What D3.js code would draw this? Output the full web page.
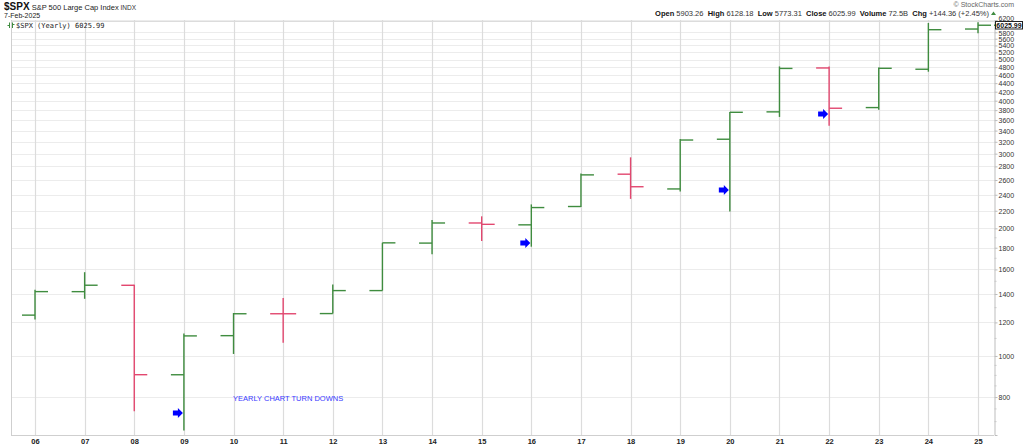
<!DOCTYPE html>
<html><head><meta charset="utf-8">
<script src="https://cdn.jsdelivr.net/npm/d3@7"></script>
<style>html,body{margin:0;padding:0;background:#fff;}svg{display:block;}</style>
</head><body>
<svg id="c" width="1024" height="446"></svg>
<script>
const years = [2006,2007,2008,2009,2010,2011,2012,2013,2014,2015,2016,2017,2018,2019,2020,2021,2022,2023,2024,2025];
const opens = [1248.29,1418.03,1467.97,902.99,1116.56,1257.62,1258.86,1426.19,1845.86,2058.90,2038.20,2251.57,2683.73,2476.96,3244.67,3764.61,4778.14,3853.29,4745.20,5903.26];
const highs = [1431.81,1576.09,1471.77,1130.38,1262.60,1370.58,1474.51,1849.44,2093.55,2134.72,2277.53,2694.97,2940.91,3247.93,3760.20,4818.62,4818.62,4793.30,6099.97,6128.18];
const lows  = [1219.29,1363.98,741.02,666.79,1010.91,1074.77,1258.86,1426.19,1737.92,1867.01,1810.10,2245.13,2346.58,2443.96,2191.86,3662.71,3491.58,3808.10,4682.11,5773.31];
const closes= [1418.30,1468.36,903.25,1115.10,1257.64,1257.60,1426.19,1848.36,2058.90,2043.94,2238.83,2673.61,2506.85,3230.78,3756.07,4766.18,3839.50,4769.83,5881.63,6025.99];
const yTicks = [800,1000,1200,1400,1600,1800,2000,2200,2400,2600,2800,3000,3200,3400,3600,3800,4000,4200,4400,4600,4800,5000,5200,5400,5600,5800,6200];
const minorTicks = [700,750,850,900,950,1100,1300,1500,1700,1900];
const arrowYears = [2009,2016,2020,2022];
const arrowValues = [734,1847,2463,3722];

const svg = d3.select('#c');
const L=11, R=994, T=20, B=435;
const x = d3.scaleLinear().domain([2006,2025]).range([35,978]);
const y = d3.scaleLog().domain([651,6200]).range([B,T]);
const font = "'Liberation Sans', Arial, sans-serif";

// grid
const g = svg.append('g');
g.selectAll('.hg').data(yTicks).join('line')
  .attr('x1',L).attr('x2',R).attr('y1',d=>Math.round(y(d))+0.5).attr('y2',d=>Math.round(y(d))+0.5)
  .attr('stroke','#ececec').attr('stroke-width',1);
g.selectAll('.vg').data(years).join('line')
  .attr('x1',d=>Math.round(x(d))+0.5).attr('x2',d=>Math.round(x(d))+0.5).attr('y1',T).attr('y2',B)
  .attr('stroke','#dcdcdc').attr('stroke-width',1.2);
// frame
svg.append('line').attr('x1',L+0.5).attr('x2',L+0.5).attr('y1',T).attr('y2',B).attr('stroke','#cfcfcf');
svg.append('line').attr('x1',L).attr('x2',R).attr('y1',B+0.5).attr('y2',B+0.5).attr('stroke','#cfcfcf');
svg.append('line').attr('x1',L).attr('x2',R).attr('y1',T+1.5).attr('y2',T+1.5).attr('stroke','#dcdcdc');

// right axis
const ax = svg.append('g').attr('transform',`translate(${R+0.5},0)`)
  .call(d3.axisRight(y).tickValues(yTicks).tickSize(3).tickFormat(d3.format('d')));
ax.select('.domain').attr('stroke','#bdbdbd');
ax.selectAll('.tick line').attr('stroke','#bdbdbd');
ax.selectAll('.tick text').attr('x',4).attr('dy',d=>d===6200?'0.02em':d===5800?'0.45em':'0.34em').attr('fill','#333').style('font-family',font).style('font-size','7px');
svg.append('g').attr('transform',`translate(${R+0.5},0)`)
  .selectAll('line').data(minorTicks).join('line')
  .attr('x1',0).attr('x2',2).attr('y1',d=>y(d)).attr('y2',d=>y(d)).attr('stroke','#c8c8c8');

// x axis labels
svg.append('g').attr('transform',`translate(0,${B})`)
  .call(d3.axisBottom(x).tickValues(years).tickSize(0).tickFormat(d=>String(d).slice(2)))
  .call(s=>s.select('.domain').remove())
  .selectAll('text').attr('dy',0).attr('y',9).attr('fill','#222')
  .style('font-family',font).style('font-size','7.5px').style('font-weight','bold');

// OHLC bars
const data = years.map((yr,i)=>({yr,o:opens[i],h:highs[i],l:lows[i],c:closes[i]}));
const green = '#3f8c3f', red = '#e2476f';
const bars = svg.append('g').selectAll('g').data(data).join('g')
  .attr('stroke',d=>d.c>=d.o?green:red).attr('stroke-width',1.4);
bars.append('line').attr('x1',d=>x(d.yr)).attr('x2',d=>x(d.yr)).attr('y1',d=>y(d.h)).attr('y2',d=>y(d.l));
bars.append('line').attr('x1',d=>x(d.yr)-13).attr('x2',d=>x(d.yr)).attr('y1',d=>y(d.o)).attr('y2',d=>y(d.o));
bars.append('line').attr('x1',d=>x(d.yr)).attr('x2',d=>x(d.yr)+13).attr('y1',d=>y(d.c)).attr('y2',d=>y(d.c));

// arrows
const arr = arrowYears.map((yr,i)=>({yr,v:arrowValues[i]}));
svg.append('g').selectAll('path').data(arr).join('path')
  .attr('transform',d=>`translate(${x(d.yr)-1},${y(d.v)})`)
  .attr('d','M-10,-2.5 L-5,-2.5 L-5,-5 L0,0 L-5,5 L-5,2.5 L-10,2.5 Z')
  .attr('fill','#0000ff');

svg.append('text').attr('x',233).attr('y',401).text('YEARLY CHART TURN DOWNS')
  .attr('fill','#3a3aff').style('font-family',font).style('font-size','7.5px');

// last price box
svg.append('line').attr('x1',R).attr('x2',996).attr('y1',y(closes[closes.length-1])).attr('y2',y(closes[closes.length-1])).attr('stroke',green).attr('stroke-width',1.4);
svg.append('rect').attr('x',995.5).attr('y',21.5).attr('width',27).attr('height',7.5)
  .attr('fill','#fff').attr('stroke','#222').attr('stroke-width',1);
svg.append('text').attr('x',1009).attr('y',28).attr('text-anchor','middle')
  .text(d3.format('.2f')(closes[closes.length-1])).attr('fill','#111')
  .style('font-family',font).style('font-size','7px').style('font-weight','bold');

// header
const h = svg.append('text').attr('x',4).attr('y',9.5).style('font-family',font);
h.append('tspan').text('$SPX').style('font-weight','bold').style('font-size','10px').attr('fill','#111');
h.append('tspan').text(' S&P 500 Large Cap Index').style('font-size','7.5px').attr('fill','#222');
h.append('tspan').text(' INDX').style('font-size','6.5px').attr('fill','#333');
svg.append('text').attr('x',4).attr('y',17.5).text('7-Feb-2025').style('font-family',font).style('font-size','7px').attr('fill','#222');
// legend inside plot
const lg = svg.append('g').attr('stroke',green).attr('stroke-width',1);
lg.append('line').attr('x1',9.5).attr('x2',9.5).attr('y1',22.5).attr('y2',28);
lg.append('line').attr('x1',7.5).attr('x2',9.5).attr('y1',25.5).attr('y2',25.5);
lg.append('line').attr('x1',12.5).attr('x2',12.5).attr('y1',22.5).attr('y2',28);
lg.append('line').attr('x1',12.5).attr('x2',14.5).attr('y1',24.5).attr('y2',24.5);
svg.append('text').attr('x',16).attr('y',27.5).text('$SPX (Yearly) 6025.99')
  .style('font-family',"'DejaVu Sans Mono', monospace").style('font-size','7px').attr('fill','#222');

svg.append('text').attr('x',1014).attr('y',7).attr('text-anchor','end').text('© StockCharts.com')
  .style('font-family',font).style('font-size','7px').attr('fill','#666');
const info = [['Open','5903.26'],['High','6128.18'],['Low','5773.31'],['Close','6025.99'],['Volume','72.5B'],['Chg','+144.36 (+2.45%)']];
const it = svg.append('text').attr('x',989).attr('y',16).attr('text-anchor','end').style('font-family',font).style('font-size','7.5px').attr('fill','#111').attr('xml:space','preserve');
info.forEach(([k,v],i)=>{
  it.append('tspan').text((i?'  ':'')+k+' ').style('font-weight','bold');
  it.append('tspan').text(v).attr('fill','#333');
});
svg.append('path').attr('d','M991,15 L993.5,11.5 L996,15 Z').attr('fill','#3f8c3f');
</script>
</body></html>
